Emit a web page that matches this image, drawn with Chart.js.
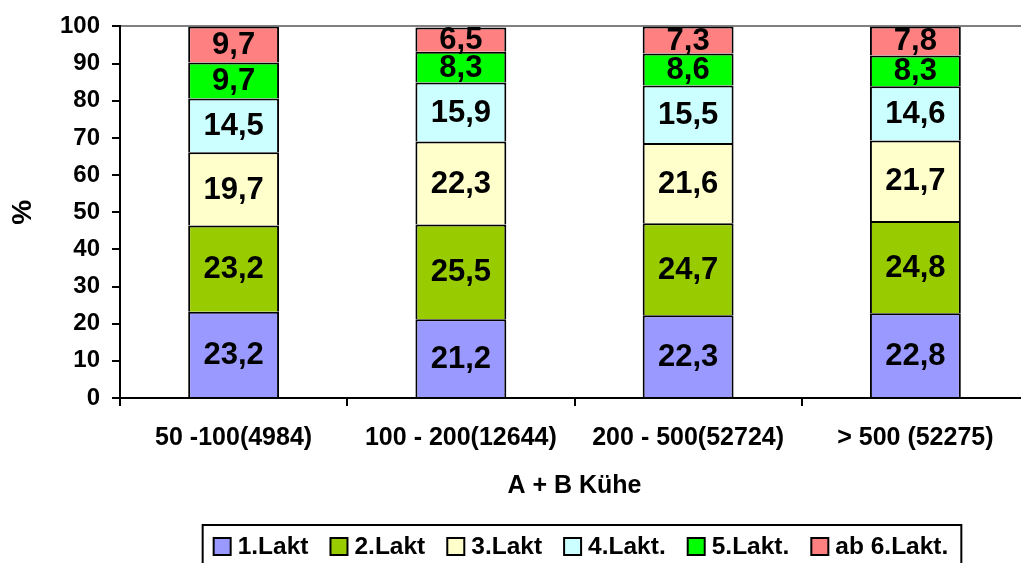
<!DOCTYPE html>
<html>
<head>
<meta charset="utf-8">
<script src="https://cdn.jsdelivr.net/npm/chart.js@4.4.0/dist/chart.umd.min.js"></script>
<style>
    html, body { margin: 0; padding: 0; overflow: hidden; background: #fff; }
    #chart-wrap { width: 1030px; height: 563px; }
</style>
</head>
<body>
<div id="chart-wrap"><canvas id="lakt-chart"></canvas></div>
<script>
// Laktationsverteilung nach Herdengröße (A + B Kühe)

const categories = ['50 -100(4984)', '100 - 200(12644)', '200 - 500(52724)', '> 500 (52275)'];
const seriesNames = ['1.Lakt', '2.Lakt', '3.Lakt', '4.Lakt.', '5.Lakt.', 'ab 6.Lakt.'];

const lakt1 = [23.2, 21.2, 22.3, 22.8];
const lakt2 = [23.2, 25.5, 24.7, 24.8];
const lakt3 = [19.7, 22.3, 21.6, 21.7];
const lakt4 = [14.5, 15.9, 15.5, 14.6];
const lakt5 = [9.7, 8.3, 8.6, 8.3];
const lakt6 = [9.7, 6.5, 7.3, 7.8];

const yMin = 0;
const yMax = 100;
const yStep = 10;

const seriesColors = ['#9999FF', '#99CC00', '#FFFFCC', '#CCFFFF', '#00FF00', '#FF8080'];
const fontFamily = 'Arial, "Liberation Sans", sans-serif';

Chart.defaults.font.family = fontFamily;
Chart.defaults.color = '#000';

// values written into each segment, with German decimal comma
const segmentLabels = {
    id: 'segmentLabels',
    afterDatasetsDraw(chart) {
        const ctx = chart.ctx;
        ctx.save();
        ctx.font = 'bold 31px ' + fontFamily;
        ctx.fillStyle = '#000';
        ctx.textAlign = 'center';
        ctx.textBaseline = 'middle';
        chart.data.datasets.forEach((ds, i) => {
            chart.getDatasetMeta(i).data.forEach((bar, j) => {
                const text = ds.data[j].toFixed(1).replace('.', ',');
                ctx.fillText(text, bar.x, (bar.y + bar.base) / 2 + 1);
            });
        });
        ctx.restore();
    }
};

// boxed legend below the axis title, like the Excel original
const legendBox = {
    id: 'legendBox',
    afterDraw(chart) {
        const ctx = chart.ctx;
        const area = chart.chartArea;
        const boxW = 17, boxH = 17, gap = 7, spacing = 22;
        const midY = 546.5;

        ctx.save();
        ctx.font = 'bold 24.5px ' + fontFamily;
        ctx.textBaseline = 'middle';
        ctx.textAlign = 'left';

        const widths = chart.data.datasets.map(ds => ctx.measureText(ds.label).width);
        const total = widths.reduce((sum, w) => sum + boxW + gap + w, 0) + spacing * (widths.length - 1);
        let x = (area.left + area.right) / 2 + 6.5 - total / 2;

        ctx.lineWidth = 2;
        ctx.strokeStyle = '#000';
        ctx.strokeRect(x - 11, 525, total + 24, 60);

        chart.data.datasets.forEach((ds, i) => {
            ctx.fillStyle = ds.backgroundColor;
            ctx.fillRect(x, midY - boxH / 2, boxW, boxH);
            ctx.strokeRect(x, midY - boxH / 2, boxW, boxH);
            ctx.fillStyle = '#000';
            ctx.fillText(ds.label, x + boxW + gap, midY + 1);
            x += boxW + gap + widths[i] + spacing;
        });
        ctx.restore();
    }
};

const seriesValues = [lakt1, lakt2, lakt3, lakt4, lakt5, lakt6];

const datasets = seriesNames.map((name, i) => ({
    label: name,
    data: seriesValues[i],
    backgroundColor: seriesColors[i],
    borderColor: '#000',
    borderWidth: 2,
    categoryPercentage: 1,
    barPercentage: 0.4
}));

const ctx = document.getElementById('lakt-chart').getContext('2d');

new Chart(ctx, {
    type: 'bar',
    data: {
        labels: categories,
        datasets: datasets
    },
    options: {
        responsive: true,
        maintainAspectRatio: false,
        animation: false,
        layout: { padding: { top: 24, right: 1, bottom: 62, left: 0 } },
        plugins: {
            legend: { display: false },
            tooltip: { enabled: false }
        },
        scales: {
            x: {
                stacked: true,
                grid: { offset: true, drawOnChartArea: false, color: '#000', lineWidth: 2, tickLength: 8 },
                border: { color: '#000', width: 2 },
                ticks: { font: { size: 25, weight: 'bold' }, padding: 17, maxRotation: 0, autoSkip: false },
                title: { display: true, text: 'A + B Kühe', font: { size: 25, weight: 'bold' }, padding: 0 },
                afterFit(scale) { scale.height = 103; }
            },
            y: {
                stacked: true,
                min: yMin,
                max: yMax,
                ticks: { stepSize: yStep, font: { size: 24, weight: 'bold' }, padding: 12 },
                grid: {
                    color: c => (c.tick && c.tick.value === yMax ? '#808080' : 'rgba(0,0,0,0)'),
                    tickColor: '#000',
                    lineWidth: 2,
                    tickLength: 8
                },
                border: { color: '#000', width: 2 },
                title: { display: true, text: '%', font: { size: 28, weight: 'bold' }, padding: 6 },
                afterFit(scale) { scale.width = 120; }
            }
        }
    },
    plugins: [segmentLabels, legendBox]
});
</script>
</body>
</html>
